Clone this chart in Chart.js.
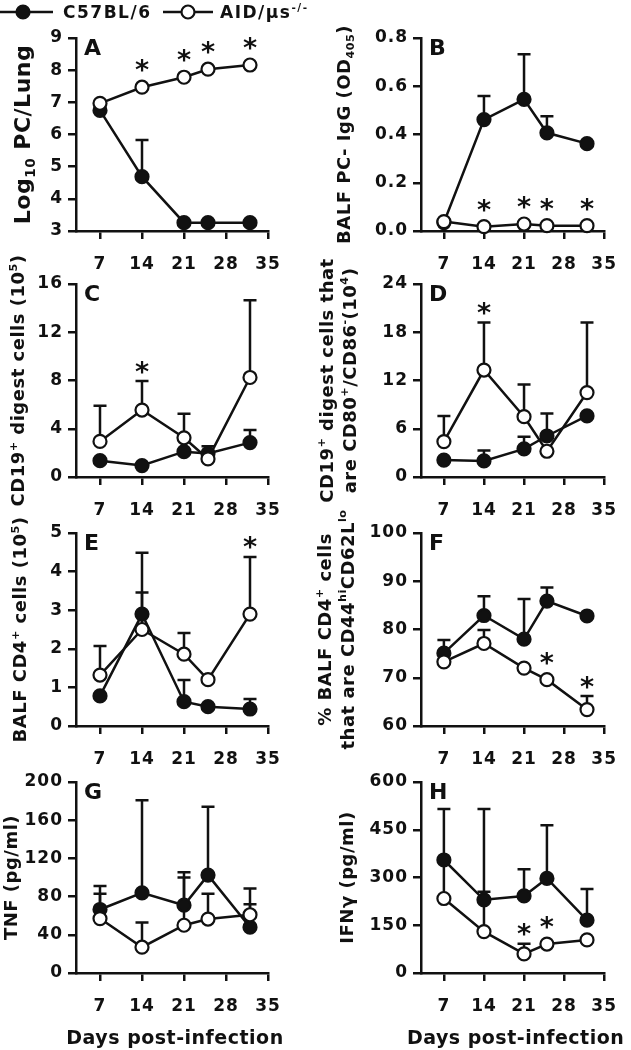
<!DOCTYPE html>
<html>
<head>
<meta charset="utf-8">
<script src="https://cdn.jsdelivr.net/npm/chart.js"></script>
<style>
  html, body { margin: 0; padding: 0; background: #fff; }
  body { position: relative; width: 631px; height: 1050px; overflow: hidden; }
</style>
</head>
<body>
<script>
// sampling days and axis ticks
const days = [7, 14, 21, 25, 32];
const xTicks = [7, 14, 21, 28, 35];
const seriesNames = ['C57BL/6', 'AID/\u03bcs'];
const xTitle = 'Days post-infection';

// A - Log10 PC/Lung
const aWt = [6.75, 4.69, 3.26, 3.26, 3.26];
const aWtErr = [0, 1.14, 0, 0, 0];
const aKo = [6.97, 7.47, 7.78, 8.03, 8.16];
const aKoErr = [0, 0, 0, 0, 0];
const aStars = [14, 21, 25, 32];
const aTicks = [3, 4, 5, 6, 7, 8, 9];

// B - BALF PC-IgG
const bWt = [0.035, 0.462, 0.546, 0.407, 0.362];
const bWtErr = [0, 0.098, 0.187, 0.069, 0];
const bKo = [0.039, 0.018, 0.029, 0.022, 0.022];
const bKoErr = [0, 0, 0, 0, 0];
const bStars = [14, 21, 25, 32];
const bTicks = [0, 0.2, 0.4, 0.6, 0.8];

// C - CD19+ digest cells
const cWt = [1.35, 0.95, 2.1, 1.95, 2.85];
const cWtErr = [0, 0, 0, 0.6, 1.05];
const cKo = [2.95, 5.55, 3.25, 1.5, 8.25];
const cKoErr = [2.95, 2.4, 2.0, 0, 6.4];
const cStars = [14];
const cTicks = [0, 4, 8, 12, 16];

// D - CD19+ CD80+/CD86-
const dWt = [2.1, 2.0, 3.5, 5.1, 7.6];
const dWtErr = [0, 1.3, 1.5, 2.8, 0];
const dKo = [4.4, 13.3, 7.5, 3.2, 10.5];
const dKoErr = [3.2, 5.9, 4.0, 0, 8.7];
const dStars = [14];
const dTicks = [0, 6, 12, 18, 24];

// E - BALF CD4+ cells
const eWt = [0.78, 2.9, 0.63, 0.5, 0.44];
const eWtErr = [0, 0.56, 0.56, 0, 0.26];
const eKo = [1.32, 2.5, 1.86, 1.2, 2.9];
const eKoErr = [0.75, 1.99, 0.55, 0, 1.48];
const eStars = [32];
const eTicks = [0, 1, 2, 3, 4, 5];

// F - % CD44hi CD62Llo
const fWt = [75.1, 82.9, 78.0, 85.9, 82.8];
const fWtErr = [2.7, 4.0, 8.3, 2.8, 0];
const fKo = [73.3, 77.1, 72.0, 69.6, 63.4];
const fKoErr = [0, 2.8, 0, 0, 2.8];
const fStars = [25, 32];
const fTicks = [60, 70, 80, 90, 100];

// G - TNF
const gWt = [66.5, 84, 71, 102.5, 48];
const gWtErr = [24.5, 97, 34.5, 71.5, 24];
const gKo = [57, 27, 50, 56.5, 61];
const gKoErr = [26, 26, 50, 26.5, 27.5];
const gStars = [];
const gTicks = [0, 40, 80, 120, 160, 200];

// H - IFNg
const hWt = [355, 230, 242, 297, 166];
const hWtErr = [160, 285, 84, 167, 98];
const hKo = [234, 130, 60, 91, 104];
const hKoErr = [120, 125, 32, 0, 0];
const hStars = [21, 25];
const hTicks = [0, 150, 300, 450, 600];

const FONT = 'DejaVu Sans';
const INK = '#111';

// page geometry (px)
const COL_X = [0, 300];
const COL_W = [330, 331];
const PLOT_LEFT = [76, 421];
const PLOT_RIGHT = [268, 613];
const PLOT_TOP = [38, 284, 533, 782];
const PLOT_BOTTOM = [231, 477, 726, 973];

const panels = [
  { letter: 'A', col: 0, row: 0, wt: aWt, wtErr: aWtErr, ko: aKo, koErr: aKoErr, stars: aStars, yTicks: aTicks, dec: 0,
    tx: 22, ts: 22, title: [[['Log', 0], ['10', -1], [' PC/Lung', 0]]] },
  { letter: 'B', col: 1, row: 0, wt: bWt, wtErr: bWtErr, ko: bKo, koErr: bKoErr, stars: bStars, yTicks: bTicks, dec: 1,
    tx: 344, ts: 18, title: [[['BALF PC- IgG (OD', 0], ['405', -1], [')', 0]]] },
  { letter: 'C', col: 0, row: 1, wt: cWt, wtErr: cWtErr, ko: cKo, koErr: cKoErr, stars: cStars, yTicks: cTicks, dec: 0,
    tx: 18, ts: 18, title: [[['CD19', 0], ['+', 1], [' digest cells (10', 0], ['5', 1], [')', 0]]] },
  { letter: 'D', col: 1, row: 1, wt: dWt, wtErr: dWtErr, ko: dKo, koErr: dKoErr, stars: dStars, yTicks: dTicks, dec: 0,
    tx: 338, ts: 18, title: [[['CD19', 0], ['+', 1], [' digest cells that', 0]],
            [['are CD80', 0], ['+', 1], ['/CD86', 0], ['-', 1], ['(10', 0], ['4', 1], [')', 0]]] },
  { letter: 'E', col: 0, row: 2, wt: eWt, wtErr: eWtErr, ko: eKo, koErr: eKoErr, stars: eStars, yTicks: eTicks, dec: 0,
    tx: 20, ts: 18, title: [[['BALF CD4', 0], ['+', 1], [' cells (10', 0], ['5', 1], [')', 0]]] },
  { letter: 'F', col: 1, row: 2, wt: fWt, wtErr: fWtErr, ko: fKo, koErr: fKoErr, stars: fStars, yTicks: fTicks, dec: 0,
    tx: 336, ts: 18, title: [[['% BALF CD4', 0], ['+', 1], [' cells', 0]],
            [['that are CD44', 0], ['hi', 1], ['CD62L', 0], ['lo', 1]]] },
  { letter: 'G', col: 0, row: 3, wt: gWt, wtErr: gWtErr, ko: gKo, koErr: gKoErr, stars: gStars, yTicks: gTicks, dec: 0,
    tx: 11, ts: 18, title: [[['TNF (pg/ml)', 0]]] },
  { letter: 'H', col: 1, row: 3, wt: hWt, wtErr: hWtErr, ko: hKo, koErr: hKoErr, stars: hStars, yTicks: hTicks, dec: 0,
    tx: 347, ts: 18, title: [[['IFN\u03b3 (pg/ml)', 0]]] }
];

// text with super/subscripts
function richWidth(ctx, segs, size) {
  let w = 0;
  segs.forEach(([t, s]) => {
    ctx.font = `bold ${s ? size * 0.62 : size}px "${FONT}"`;
    w += ctx.measureText(t).width;
  });
  return w;
}

function drawRich(ctx, segs, x, y, size, align) {
  const w = richWidth(ctx, segs, size);
  let cx = align === 'center' ? x - w / 2 : x;
  const base = y + size * 0.36;
  ctx.textAlign = 'left';
  ctx.textBaseline = 'alphabetic';
  segs.forEach(([t, s]) => {
    const fs = s ? size * 0.62 : size;
    ctx.font = `bold ${fs}px "${FONT}"`;
    const dy = s === 1 ? -size * 0.42 : (s === -1 ? size * 0.22 : 0);
    ctx.fillText(t, cx, base + dy);
    cx += ctx.measureText(t).width;
  });
}

function drawMarker(ctx, x, y, filled) {
  ctx.beginPath();
  ctx.arc(x, y, 6.5, 0, Math.PI * 2);
  ctx.fillStyle = filled ? INK : '#fff';
  ctx.fill();
  ctx.lineWidth = 2.2;
  ctx.strokeStyle = INK;
  ctx.stroke();
}

function makeSeries(vals, errs, filled, order) {
  return {
    data: days.map((d, i) => ({ x: d, y: vals[i] })),
    errs: errs,
    borderColor: INK,
    borderWidth: 2.5,
    pointRadius: 6.5,
    pointHoverRadius: 6.5,
    pointBorderWidth: 2.2,
    pointBackgroundColor: filled ? INK : '#fff',
    pointBorderColor: INK,
    tension: 0,
    clip: false,
    order: order
  };
}

function makeChart(p) {
  const cx0 = COL_X[p.col], cw = COL_W[p.col];
  const top = PLOT_TOP[p.row], bottom = PLOT_BOTTOM[p.row];
  const cy0 = top - 38, ch = 38 + (bottom - top) + 77;

  const cv = document.createElement('canvas');
  cv.width = cw;
  cv.height = ch;
  cv.style.cssText = `position:absolute;left:${cx0}px;top:${cy0}px;width:${cw}px;height:${ch}px`;
  document.body.appendChild(cv);

  const tickFont = { family: FONT, weight: 'bold', size: 17 };
  const axisGrid = { drawOnChartArea: false, drawTicks: true, tickLength: 8, lineWidth: 2.5, color: INK };
  const axisBorder = { display: true, width: 2.5, color: INK };

  const deco = {
    id: 'deco' + p.letter,
    beforeDraw(chart) {
      chart.ctx.letterSpacing = '1px';
    },
    beforeDatasetsDraw(chart) {
      // error bars (upper only)
      const ctx = chart.ctx, xs = chart.scales.x, ys = chart.scales.y;
      ctx.save();
      ctx.strokeStyle = INK;
      ctx.lineWidth = 2.5;
      chart.data.datasets.forEach(ds => {
        ds.errs.forEach((e, i) => {
          if (!e) return;
          const x = xs.getPixelForValue(days[i]);
          const y0 = ys.getPixelForValue(ds.data[i].y);
          const y1 = ys.getPixelForValue(ds.data[i].y + e);
          ctx.beginPath();
          ctx.moveTo(x, y0);
          ctx.lineTo(x, y1);
          ctx.moveTo(x - 6.5, y1);
          ctx.lineTo(x + 6.5, y1);
          ctx.stroke();
        });
      });
      ctx.restore();
    },
    afterDraw(chart) {
      const ctx = chart.ctx, xs = chart.scales.x, ys = chart.scales.y;
      const area = chart.chartArea;
      ctx.save();
      ctx.fillStyle = INK;
      ctx.letterSpacing = '0px';

      // panel letter
      ctx.font = `bold 22px "${FONT}"`;
      ctx.textAlign = 'left';
      ctx.textBaseline = 'alphabetic';
      const lm = ctx.measureText(p.letter);
      ctx.fillText(p.letter, area.left + 8, area.top + 1 + lm.actualBoundingBoxAscent);

      // significance asterisks above the AID/mus series
      ctx.font = `bold 27px "${FONT}"`;
      ctx.textAlign = 'center';
      const sm = ctx.measureText('*');
      p.stars.forEach(d => {
        const i = days.indexOf(d);
        const v = p.ko[i], e = p.koErr[i] || 0;
        const topY = Math.min(ys.getPixelForValue(v + e), ys.getPixelForValue(v) - 7.5);
        const cy = topY - 14;
        ctx.fillText('*', xs.getPixelForValue(d), cy + (sm.actualBoundingBoxAscent - sm.actualBoundingBoxDescent) / 2);
      });

      // x-axis title under the bottom row
      if (p.row === 3) {
        ctx.letterSpacing = '0.5px';
        drawRich(ctx, [[xTitle, 0]], (area.left + area.right) / 2 + 3, area.bottom + 64, 19, 'center');
      }

      // y-axis title, rotated
      ctx.letterSpacing = '0.5px';
      const n = p.title.length;
      const midY = (area.top + area.bottom) / 2;
      const tx = p.tx - cx0;
      p.title.forEach((segs, k) => {
        const lx = tx + (k - (n - 1) / 2) * 23;
        ctx.save();
        ctx.translate(lx, midY);
        ctx.rotate(-Math.PI / 2);
        drawRich(ctx, segs, 0, 0, p.ts, 'center');
        ctx.restore();
      });

      // legend on the first panel
      if (p.letter === 'A') {
        const ly = 12;
        ctx.strokeStyle = INK;
        ctx.lineWidth = 2.5;
        ctx.letterSpacing = '1.5px';
        ctx.beginPath(); ctx.moveTo(0, ly); ctx.lineTo(53, ly); ctx.stroke();
        drawMarker(ctx, 23, ly, true);
        drawRich(ctx, [[seriesNames[0], 0]], 63, ly, 17, 'left');
        ctx.strokeStyle = INK;
        ctx.lineWidth = 2.5;
        ctx.beginPath(); ctx.moveTo(163, ly); ctx.lineTo(213, ly); ctx.stroke();
        drawMarker(ctx, 188, ly, false);
        ctx.fillStyle = INK;
        drawRich(ctx, [[seriesNames[1], 0], ['-/-', 1]], 220, ly, 17, 'left');
      }
      ctx.restore();
    }
  };

  return new Chart(cv, {
    type: 'line',
    data: {
      datasets: [
        makeSeries(p.wt, p.wtErr, true, 1),
        makeSeries(p.ko, p.koErr, false, 0)
      ]
    },
    options: {
      responsive: false,
      animation: false,
      devicePixelRatio: 1,
      events: [],
      layout: { padding: { top: 38, right: cx0 + cw - PLOT_RIGHT[p.col], bottom: 0, left: 0 } },
      plugins: { legend: { display: false }, tooltip: { enabled: false } },
      scales: {
        x: {
          type: 'linear',
          min: 3,
          max: 35,
          afterBuildTicks: s => { s.ticks = xTicks.map(v => ({ value: v })); },
          afterFit: s => { s.height = 77; },
          grid: axisGrid,
          border: axisBorder,
          ticks: { font: tickFont, color: INK, padding: 15, maxRotation: 0, autoSkip: false }
        },
        y: {
          type: 'linear',
          min: p.yTicks[0],
          max: p.yTicks[p.yTicks.length - 1],
          afterBuildTicks: s => { s.ticks = p.yTicks.map(v => ({ value: v })); },
          afterFit: s => { s.width = PLOT_LEFT[p.col] - cx0; },
          grid: axisGrid,
          border: axisBorder,
          ticks: { font: tickFont, color: INK, padding: 5, callback: v => Number(v).toFixed(p.dec) }
        }
      }
    },
    plugins: [deco]
  });
}

panels.forEach(makeChart);
</script>
</body>
</html>
